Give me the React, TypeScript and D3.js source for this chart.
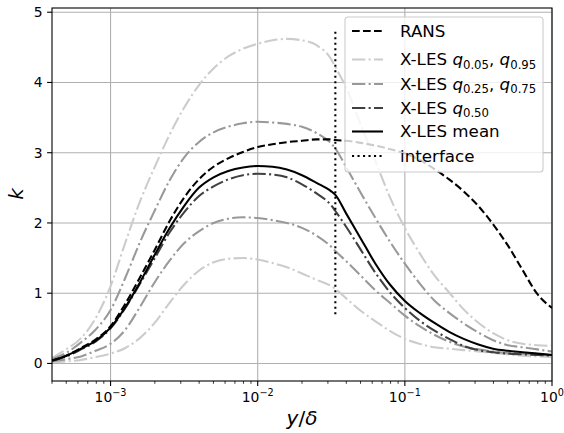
import React from "react";
import * as d3 from "d3";

// y/δ sample positions
const yDelta = [
  0.0004, 0.0005, 0.00063, 0.00079, 0.001, 0.00126, 0.00158, 0.002, 0.00251, 0.00316,
  0.00398, 0.00501, 0.00631, 0.00794, 0.01, 0.0126, 0.0158, 0.02, 0.0251, 0.0316,
  0.0337, 0.0398, 0.0501, 0.0631, 0.0794, 0.1, 0.126, 0.158, 0.2, 0.251,
  0.316, 0.398, 0.501, 0.631, 0.794, 1.0,
];

const kRans = [
  0.04, 0.11, 0.22, 0.34, 0.53, 0.85, 1.22, 1.62, 2.02, 2.36,
  2.62, 2.80, 2.92, 3.01, 3.08, 3.12, 3.15, 3.17, 3.19, 3.19,
  3.18, 3.17, 3.14, 3.10, 3.05, 2.99, 2.90, 2.77, 2.62, 2.45,
  2.24, 1.98, 1.68, 1.33, 0.99, 0.79,
];
const kQ05 = [
  0.02, 0.03, 0.05, 0.09, 0.14, 0.22, 0.36, 0.58, 0.86, 1.12,
  1.32, 1.44, 1.49, 1.50, 1.48, 1.43, 1.37, 1.28, 1.19, 1.10,
  1.06, 0.93, 0.75, 0.60, 0.46, 0.35, 0.28, 0.23, 0.21, 0.19,
  0.17, 0.15, 0.13, 0.11, 0.10, 0.09,
];
const kQ95 = [
  0.08, 0.20, 0.36, 0.64, 1.10, 1.72, 2.30, 2.80, 3.25, 3.64,
  3.96, 4.20, 4.37, 4.48, 4.55, 4.60, 4.62, 4.60, 4.53, 4.33,
  4.22, 3.93, 3.40, 2.88, 2.36, 1.93, 1.57, 1.26, 1.01, 0.77,
  0.58, 0.43, 0.33, 0.28, 0.26, 0.25,
];
const kQ25 = [
  0.03, 0.06, 0.10, 0.18, 0.28, 0.48, 0.80, 1.16, 1.46, 1.71,
  1.88, 2.00, 2.06, 2.08, 2.07, 2.04, 2.00, 1.93, 1.82, 1.66,
  1.60, 1.46, 1.25, 1.04, 0.86, 0.68, 0.53, 0.41, 0.31, 0.24,
  0.20, 0.17, 0.15, 0.14, 0.13, 0.12,
];
const kQ75 = [
  0.06, 0.15, 0.30, 0.48, 0.76, 1.22, 1.72, 2.18, 2.60, 2.93,
  3.15, 3.29, 3.37, 3.42, 3.44, 3.43, 3.41, 3.37, 3.28, 3.13,
  3.06, 2.80, 2.43, 2.07, 1.73, 1.42, 1.14, 0.90, 0.72, 0.57,
  0.44, 0.33, 0.26, 0.23, 0.20, 0.17,
];
const kQ50 = [
  0.04, 0.10, 0.20, 0.31, 0.50, 0.79, 1.13, 1.50, 1.86, 2.15,
  2.38, 2.52, 2.62, 2.68, 2.70, 2.69, 2.65, 2.55, 2.42, 2.25,
  2.17, 1.95, 1.62, 1.29, 1.01, 0.79, 0.61, 0.47, 0.35, 0.25,
  0.19, 0.16, 0.14, 0.13, 0.12, 0.11,
];
const kMean = [
  0.04, 0.11, 0.21, 0.32, 0.51, 0.80, 1.15, 1.55, 1.92, 2.24,
  2.50, 2.65, 2.74, 2.79, 2.81, 2.80, 2.76, 2.68, 2.57, 2.45,
  2.40, 2.14, 1.78, 1.42, 1.12, 0.89, 0.72, 0.58, 0.45, 0.35,
  0.27, 0.21, 0.18, 0.16, 0.14, 0.12,
];

const interfaceX = 0.0337;
const interfaceK = [0.7, 4.77];

const yTicks = [0, 1, 2, 3, 4, 5];
const xMajorTicks = [0.001, 0.01, 0.1, 1];
const xTickExp = ["\u22123", "\u22122", "\u22121", "0"];

const FONT = "DejaVu Sans, sans-serif";

const L = 52, R = 552, T = 8, B = 381;

export default function App() {
  const x = d3.scaleLog().domain([0.0004, 1]).range([L, R]);
  const y = d3.scaleLinear().domain([-0.25, 5.06]).range([B, T]);

  const line = d3
    .line<[number, number]>()
    .x((d) => x(d[0]))
    .y((d) => y(d[1]))
    .curve(d3.curveMonotoneX);
  const path = (ks: number[]) => line(yDelta.map((v, i) => [v, ks[i]] as [number, number])) || "";

  const lw = 2.08;
  const dashDot = "13.3,3.3,2.1,3.3";
  const dashed = "7.7,3.3";
  const dotted = "2.1,3.4";

  const series = [
    { k: kQ05, color: "#cccccc", dash: dashDot },
    { k: kQ95, color: "#cccccc", dash: dashDot },
    { k: kQ25, color: "#999999", dash: dashDot },
    { k: kQ75, color: "#999999", dash: dashDot },
    { k: kQ50, color: "#404040", dash: dashDot },
    { k: kMean, color: "#000000", dash: undefined },
    { k: kRans, color: "#000000", dash: dashed },
  ];

  const minorTicks = x.ticks().filter((t) => !xMajorTicks.some((m) => Math.abs(m - t) / m < 1e-6));

  const fs = 13.9;
  const supFs = 9.7;
  const lfs = 16.7;
  const subFs = 11.7;
  const sd = 3.5;

  const sub = (a: string) => (
    <>
      <tspan fontStyle="italic">q</tspan>
      <tspan fontSize={subFs} dy={sd}>{a}</tspan>
    </>
  );

  const legendRows = [
    { color: "#000", dash: dashed, base: 36.5, label: <tspan>RANS</tspan> },
    {
      color: "#cccccc", dash: dashDot, base: 65,
      label: (
        <>
          <tspan>X-LES </tspan>
          {sub("0.05")}
          <tspan dy={-sd}>, </tspan>
          {sub("0.95")}
        </>
      ),
    },
    {
      color: "#999999", dash: dashDot, base: 89.5,
      label: (
        <>
          <tspan>X-LES </tspan>
          {sub("0.25")}
          <tspan dy={-sd}>, </tspan>
          {sub("0.75")}
        </>
      ),
    },
    {
      color: "#404040", dash: dashDot, base: 113.5,
      label: (
        <>
          <tspan>X-LES </tspan>
          {sub("0.50")}
        </>
      ),
    },
    { color: "#000", dash: undefined, base: 137, label: <tspan>X-LES mean</tspan> },
    { color: "#000", dash: dotted, base: 161.5, label: <tspan>interface</tspan> },
  ];

  return (
    <svg
      width={564}
      height={433}
      style={{ position: "absolute", left: 0, top: 0, background: "#fff" }}
      fontFamily={FONT}
    >
      <defs>
        <clipPath id="plotclip">
          <rect x={L} y={T} width={R - L} height={B - T} />
        </clipPath>
      </defs>
      <rect x={0} y={0} width={564} height={433} fill="#fff" />

      {/* grid */}
      <g stroke="#b0b0b0" strokeWidth={1.1}>
        {xMajorTicks.map((t) => (
          <line key={"gx" + t} x1={x(t)} x2={x(t)} y1={T} y2={B} />
        ))}
        {yTicks.map((t) => (
          <line key={"gy" + t} x1={L} x2={R} y1={y(t)} y2={y(t)} />
        ))}
      </g>

      {/* data */}
      <g clipPath="url(#plotclip)" fill="none">
        {series.map((s, i) => (
          <path
            key={i}
            d={path(s.k)}
            stroke={s.color}
            strokeWidth={lw}
            strokeDasharray={s.dash}
          />
        ))}
        <line
          x1={x(interfaceX)}
          x2={x(interfaceX)}
          y1={y(interfaceK[0])}
          y2={y(interfaceK[1])}
          stroke="#000"
          strokeWidth={lw}
          strokeDasharray={dotted}
        />
      </g>

      {/* spines */}
      <rect x={L} y={T} width={R - L} height={B - T} fill="none" stroke="#000" strokeWidth={1.1} />

      {/* y ticks */}
      {yTicks.map((t) => (
        <g key={"yt" + t}>
          <line x1={L - 4.9} x2={L} y1={y(t)} y2={y(t)} stroke="#000" strokeWidth={1.1} />
          <text x={L - 9.5} y={y(t) + 5} fontSize={fs} textAnchor="end" fill="#000">
            {t}
          </text>
        </g>
      ))}

      {/* x ticks */}
      {minorTicks.map((t, i) => (
        <line key={"mx" + i} x1={x(t)} x2={x(t)} y1={B} y2={B + 2.8} stroke="#000" strokeWidth={0.8} />
      ))}
      {xMajorTicks.map((t, i) => (
        <g key={"xt" + t}>
          <line x1={x(t)} x2={x(t)} y1={B} y2={B + 4.9} stroke="#000" strokeWidth={1.1} />
          <text x={x(t)} y={402} fontSize={fs} textAnchor="middle" fill="#000">
            <tspan>10</tspan>
            <tspan fontSize={supFs} dy={-6}>{xTickExp[i]}</tspan>
          </text>
        </g>
      ))}

      {/* axis labels */}
      <text x={302} y={425} fontSize={20} textAnchor="middle" fill="#000">
        <tspan fontStyle="italic">y</tspan>
        <tspan>/</tspan>
        <tspan fontStyle="italic">δ</tspan>
      </text>
      <text
        x={23}
        y={194}
        fontSize={20}
        fontStyle="italic"
        textAnchor="middle"
        fill="#000"
        transform="rotate(-90, 23, 194)"
      >
        k
      </text>

      {/* legend */}
      <rect
        x={345}
        y={17}
        width={198}
        height={155}
        rx={3}
        fill="#fff"
        fillOpacity={0.8}
        stroke="#cccccc"
        strokeWidth={1.1}
      />
      {legendRows.map((r, i) => (
        <g key={"lg" + i}>
          <line
            x1={352}
            x2={383}
            y1={r.base - 5.5}
            y2={r.base - 5.5}
            stroke={r.color}
            strokeWidth={lw}
            strokeDasharray={r.dash}
          />
          <text x={400} y={r.base} fontSize={lfs} fill="#000">
            {r.label}
          </text>
        </g>
      ))}
    </svg>
  );
}
